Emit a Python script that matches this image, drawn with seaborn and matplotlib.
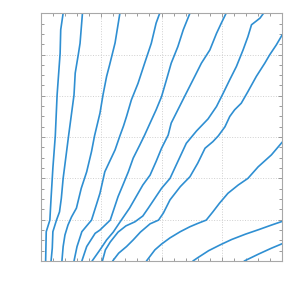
import numpy as np
import pandas as pd
import seaborn as sns
import matplotlib.pyplot as plt
from matplotlib.ticker import MultipleLocator, NullFormatter

# contour lines (x from 0 to 4, y from 0 to 6)
a_x = [0.08, 0.09, 0.15, 0.17, 0.20, 0.24, 0.27, 0.32, 0.33, 0.37]
a_y = [0.00, 0.71, 0.99, 1.52, 2.25, 3.03, 4.02, 5.03, 5.60, 6.00]

b_x = [0.17, 0.19, 0.20, 0.26, 0.31, 0.34, 0.37, 0.42, 0.46, 0.51, 0.55, 0.57, 0.62, 0.65, 0.69]
b_y = [0.00, 0.31, 0.71, 0.99, 1.19, 1.52, 2.00, 2.57, 3.03, 3.58, 4.02, 4.55, 4.99, 5.27, 6.00]

c_x = [0.35, 0.37, 0.40, 0.45, 0.51, 0.59, 0.67, 0.76, 0.84, 0.89, 0.98, 1.03, 1.09, 1.14, 1.23, 1.31]
c_y = [0.00, 0.35, 0.63, 0.87, 1.07, 1.28, 1.76, 2.16, 2.65, 3.03, 3.58, 4.02, 4.47, 4.75, 5.28, 6.00]

d_x = [0.55, 0.60, 0.68, 0.84, 0.92, 0.98, 1.06, 1.14, 1.23, 1.31, 1.37, 1.42, 1.50, 1.61, 1.72, 1.83, 1.91, 1.97]
d_y = [0.00, 0.35, 0.71, 0.99, 1.36, 1.64, 2.16, 2.41, 2.69, 3.03, 3.27, 3.50, 3.90, 4.30, 4.79, 5.27, 5.76, 6.00]

e_x = [0.68, 0.76, 0.90, 0.98, 1.15, 1.28, 1.36, 1.45, 1.53, 1.64, 1.72, 1.81, 1.91, 2.00, 2.08, 2.16, 2.27, 2.36, 2.47]
e_y = [0.00, 0.35, 0.67, 0.75, 0.99, 1.56, 1.84, 2.16, 2.49, 2.81, 3.05, 3.34, 3.66, 3.98, 4.38, 4.79, 5.19, 5.60, 6.00]

f_x = [0.85, 0.98, 1.09, 1.20, 1.31, 1.47, 1.58, 1.69, 1.81, 1.91, 2.00, 2.11, 2.16, 2.27, 2.38, 2.55, 2.66, 2.80, 2.91, 2.99, 3.07]
f_y = [0.00, 0.27, 0.51, 0.70, 0.94, 1.28, 1.56, 1.84, 2.08, 2.41, 2.73, 3.05, 3.34, 3.66, 3.98, 4.47, 4.79, 5.11, 5.51, 5.76, 6.00]

g_x = [1.02, 1.07, 1.15, 1.28, 1.41, 1.56, 1.69, 1.78, 1.89, 2.00, 2.14, 2.27, 2.41, 2.58, 2.77,
       2.91, 3.02, 3.13, 3.24, 3.35, 3.43, 3.49, 3.63, 3.69]
g_y = [0.00, 0.27, 0.46, 0.70, 0.85, 0.95, 1.09, 1.28, 1.52, 1.76, 2.00, 2.41, 2.85, 3.15, 3.44,
       3.74, 4.06, 4.39, 4.71, 5.11, 5.43, 5.72, 5.88, 6.00]

h_x = [1.19, 1.29, 1.42, 1.53, 1.65, 1.81, 1.95, 2.03, 2.14, 2.31, 2.47, 2.60, 2.72, 2.85, 2.94,
       3.05, 3.13, 3.21, 3.32, 3.43, 3.57, 3.71, 3.79, 3.90, 4.00]
h_y = [0.00, 0.19, 0.35, 0.51, 0.70, 0.90, 0.99, 1.16, 1.48, 1.80, 2.04, 2.37, 2.73, 2.89, 3.03,
       3.25, 3.50, 3.66, 3.82, 4.10, 4.47, 4.79, 4.99, 5.23, 5.48]

i_x = [1.75, 1.89, 2.00, 2.14, 2.31, 2.47, 2.60, 2.74, 2.85, 2.96, 3.10, 3.27, 3.43, 3.60, 3.82, 4.00]
i_y = [0.00, 0.27, 0.41, 0.56, 0.71, 0.83, 0.91, 0.99, 1.19, 1.40, 1.64, 1.84, 2.00, 2.28, 2.57, 2.88]

j_x = [2.52, 2.60, 2.78, 2.97, 3.16, 3.39, 3.61, 3.82, 4.00]
j_y = [0.00, 0.08, 0.25, 0.39, 0.52, 0.65, 0.76, 0.87, 0.96]

k_x = [3.37, 3.61, 3.82, 4.00]
k_y = [0.00, 0.17, 0.31, 0.42]

lines = [a_x, b_x, c_x, d_x, e_x, f_x, g_x, h_x, i_x, j_x, k_x]
lines_y = [a_y, b_y, c_y, d_y, e_y, f_y, g_y, h_y, i_y, j_y, k_y]

df = pd.concat([pd.DataFrame({'x': xs, 'y': ys, 'line': n})
                for n, (xs, ys) in enumerate(zip(lines, lines_y))], ignore_index=True)

sns.set_style("white")
fig = plt.figure(figsize=(3, 3), dpi=100)
ax = fig.add_axes([0.136, 0.13, 0.805, 0.826])

sns.lineplot(data=df, x='x', y='y', units='line', estimator=None, sort=False,
             color='#2f8fd2', linewidth=1.2, ax=ax)

ax.set_xlim(0, 4)
ax.set_ylim(0, 6)
ax.set_xlabel('')
ax.set_ylabel('')
ax.xaxis.set_major_locator(MultipleLocator(1))
ax.xaxis.set_minor_locator(MultipleLocator(0.2))
ax.yaxis.set_major_locator(MultipleLocator(1))
ax.yaxis.set_minor_locator(MultipleLocator(0.25))
ax.xaxis.set_major_formatter(NullFormatter())
ax.yaxis.set_major_formatter(NullFormatter())
ax.tick_params(which='both', direction='in', top=True, right=True, bottom=True, left=True,
               color='#9a9a9a', width=0.7)
ax.tick_params(which='major', length=3)
ax.tick_params(which='minor', length=2)
ax.grid(True, which='major', linestyle=':', color='#d0d0d0', linewidth=0.7)
for s in ax.spines.values():
    s.set_color('#a8a8a8')
    s.set_linewidth(0.8)

fig.savefig('out.png', dpi=100)
